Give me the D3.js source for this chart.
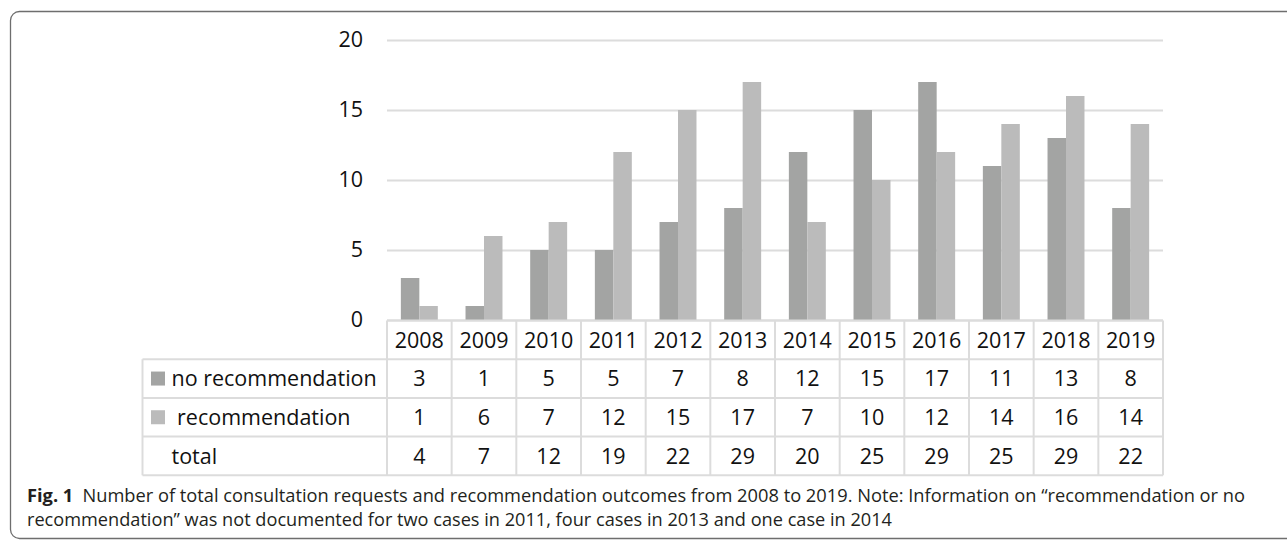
<!DOCTYPE html>
<html>
<head>
<meta charset="utf-8">
<script src="https://cdn.jsdelivr.net/npm/d3@7"></script>
<style>
  html, body { margin: 0; padding: 0; background: #fff; }
  svg { display: block; }
</style>
</head>
<body>
<svg id="chart" width="1287" height="542"></svg>
<script>
const years = ["2008","2009","2010","2011","2012","2013","2014","2015","2016","2017","2018","2019"];
const noRecommendation = [3,1,5,5,7,8,12,15,17,11,13,8];
const recommendation = [1,6,7,12,15,17,7,10,12,14,16,14];
const total = [4,7,12,19,22,29,20,25,29,25,29,22];
const seriesNames = ["no recommendation", " recommendation"];
const yTicks = [0,5,10,15,20];
const captionLine1Bold = "Fig. 1";
const captionLine1 = "Number of total consultation requests and recommendation outcomes from 2008 to 2019. Note: Information on \u201Crecommendation or no";
const captionLine2 = "recommendation\u201D was not documented for two cases in 2011, four cases in 2013 and one case in 2014";

const svg = d3.select("#chart");
const colors = ["#a3a4a3", "#bbbbbb"];
const gridColor = "#dcdcdc";
const font = "'Open Sans', 'Noto Sans', sans-serif";
const fs = 21.5;

// frame
svg.append("rect")
  .attr("x", 10.5).attr("y", 11.5)
  .attr("width", 1300).attr("height", 527)
  .attr("rx", 9).attr("ry", 9)
  .attr("fill", "none").attr("stroke", "#6e6e6e").attr("stroke-width", 1.3);

const plotLeft = 387, plotRight = 1163, plotTop = 40, plotBottom = 320;

const x = d3.scaleBand().domain(years).range([plotLeft, plotRight]).paddingInner(0).paddingOuter(0);
const y = d3.scaleLinear().domain([0, 20]).range([plotBottom, plotTop]);
const inner = d3.scaleBand().domain([0,1]).range([0, x.bandwidth()]).paddingInner(0).paddingOuter(0.75);

// gridlines
const yAxis = d3.axisLeft(y).tickValues(yTicks).tickSize(-(plotRight - plotLeft)).tickPadding(24);
const gy = svg.append("g").attr("transform", `translate(${plotLeft},0)`).call(yAxis);
gy.select(".domain").remove();
gy.selectAll(".tick line").attr("stroke", gridColor).attr("stroke-width", 2);
gy.selectAll(".tick text").attr("font-family", font).attr("font-size", fs).attr("fill", "#111");

// bars
const series = [noRecommendation, recommendation];
series.forEach((vals, si) => {
  svg.append("g").selectAll("rect").data(vals).join("rect")
    .attr("x", (d, i) => x(years[i]) + inner(si))
    .attr("y", d => y(d))
    .attr("width", inner.bandwidth())
    .attr("height", d => y(0) - y(d))
    .attr("fill", colors[si]);
});

// data table
const rowH = 38.7;
const rowTops = [320.5, 320.5 + rowH, 320.5 + 2*rowH, 320.5 + 3*rowH];
const tableBottom = 320.5 + 4*rowH;
const legendLeft = 142.5;
const tg = svg.append("g");
tg.append("line").attr("x1", plotLeft).attr("x2", plotRight).attr("y1", rowTops[0]).attr("y2", rowTops[0]);
[rowTops[1], rowTops[2], rowTops[3], tableBottom].forEach(yy => {
  tg.append("line").attr("x1", legendLeft).attr("x2", plotRight).attr("y1", yy).attr("y2", yy);
});
years.forEach(yr => {
  tg.append("line").attr("x1", x(yr)).attr("x2", x(yr)).attr("y1", rowTops[0]).attr("y2", tableBottom);
});
tg.append("line").attr("x1", plotRight).attr("x2", plotRight).attr("y1", rowTops[0]).attr("y2", tableBottom);
tg.append("line").attr("x1", legendLeft).attr("x2", legendLeft).attr("y1", rowTops[1]).attr("y2", tableBottom);
tg.selectAll("line").attr("stroke", gridColor).attr("stroke-width", 2);

const rows = [years, noRecommendation, recommendation, total];
rows.forEach((vals, ri) => {
  tg.append("g").selectAll("text").data(vals).join("text")
    .attr("x", (d, i) => x(years[i]) + x.bandwidth() / 2)
    .attr("y", rowTops[ri] + rowH / 2)
    .attr("dy", "0.36em")
    .attr("text-anchor", "middle")
    .attr("font-family", font).attr("font-size", fs).attr("fill", "#111")
    .text(d => d);
});

// legend cells
const labels = [seriesNames[0], seriesNames[1], "total"];
labels.forEach((lab, i) => {
  const cy = rowTops[i + 1] + rowH / 2;
  if (i < 2) {
    tg.append("rect").attr("x", 151).attr("y", cy - 7).attr("width", 14).attr("height", 14).attr("fill", colors[i]);
  }
  tg.append("text")
    .attr("x", 171.5).attr("y", cy).attr("dy", "0.36em")
    .attr("font-family", font).attr("font-size", fs).attr("fill", "#111")
    .attr("xml:space", "preserve")
    .style("white-space", "pre")
    .text(lab);
});

// caption
const cap1 = svg.append("text").attr("x", 27).attr("y", 502)
  .attr("font-family", font).attr("font-size", 18.5).attr("fill", "#231f20")
  .attr("textLength", 1218).attr("lengthAdjust", "spacingAndGlyphs");
cap1.append("tspan").attr("font-weight", "bold").text(captionLine1Bold);
cap1.append("tspan").text("\u2002" + captionLine1);
svg.append("text").attr("x", 27).attr("y", 526)
  .attr("font-family", font).attr("font-size", 18.5).attr("fill", "#231f20")
  .attr("textLength", 865).attr("lengthAdjust", "spacingAndGlyphs")
  .text(captionLine2);
</script>
</body>
</html>
